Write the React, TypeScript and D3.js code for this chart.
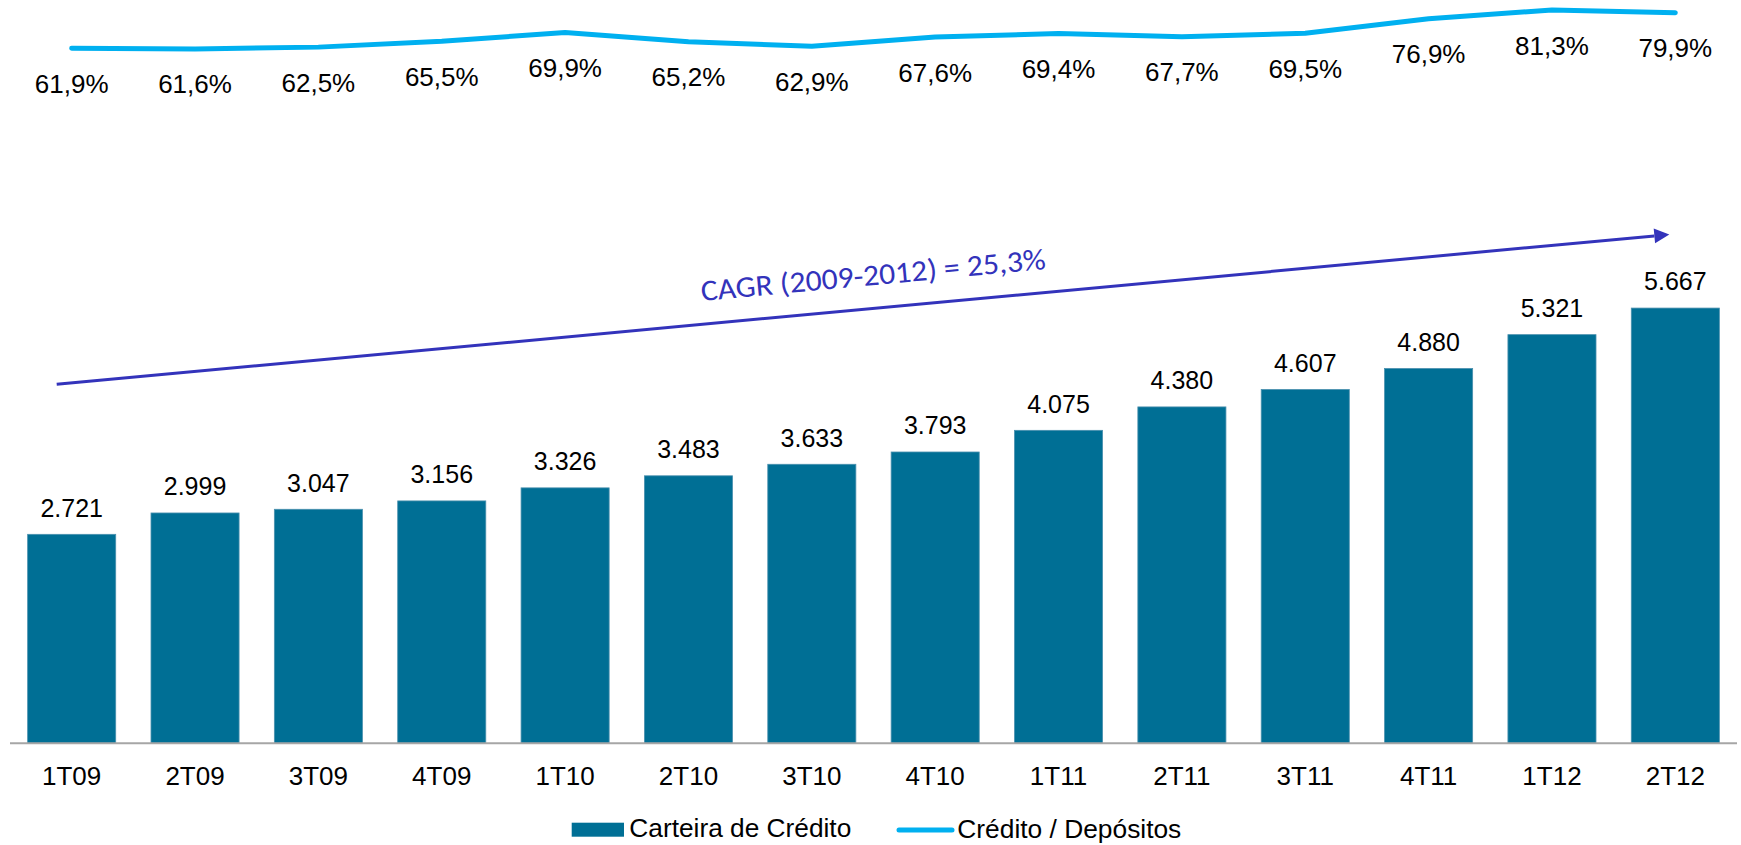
import React from "react";
import * as d3 from "d3";

const categories = ["1T09", "2T09", "3T09", "4T09", "1T10", "2T10", "3T10", "4T10", "1T11", "2T11", "3T11", "4T11", "1T12", "2T12"];
const carteira = [2721, 2999, 3047, 3156, 3326, 3483, 3633, 3793, 4075, 4380, 4607, 4880, 5321, 5667];
const creditoDepositos = [61.9, 61.6, 62.5, 65.5, 69.9, 65.2, 62.9, 67.6, 69.4, 67.7, 69.5, 76.9, 81.3, 79.9];
const legendLabels = ["Carteira de Crédito", "Crédito / Depósitos"];
const cagrLabel = "CAGR (2009-2012) = 25,3%";

const W = 1741;
const H = 845;
const baseY = 743.3;

const BAR = "#006f95";
const LINE = "#00b0f0";
const ARROW = "#3333bb";
const FONT = "'Liberation Sans', Arial, sans-serif";

const locale = d3.formatLocale({ decimal: ",", thousands: ".", grouping: [3], currency: ["R$", ""] });
const fmtInt = locale.format(",d");
const fmtPct = (v: number) => locale.format(".1f")(v) + "%";

const App = () => {
  const x = d3.scaleBand<string>().domain(categories).range([10, 1737]).paddingInner(0.286).paddingOuter(0.143);
  const bw = x.bandwidth();
  const cx = (c: string) => (x(c) as number) + bw / 2;

  const y = d3.scaleLinear().domain([0, 6000]).range([baseY, baseY - 460.8]);
  const yLine = d3.scaleLinear().domain([0, 100]).range([170.5, -26.9]);

  const linePath = d3
    .line<number>()
    .x((_, i) => cx(categories[i]))
    .y((d) => yLine(d))(creditoDepositos);

  // CAGR arrow, anchored on first and last bars
  const ax0 = (x(categories[0]) as number) + bw * 0.33;
  const ay0 = y(4674);
  const ax1 = cx(categories[categories.length - 1]) - 6;
  const ay1 = y(6625);
  const angle = Math.atan2(ay1 - ay0, ax1 - ax0);
  const deg = (angle * 180) / Math.PI;
  const headLen = 15;
  const headHalf = 7.5;
  const bx = ax1 - headLen * Math.cos(angle);
  const by = ay1 - headLen * Math.sin(angle);
  const head = [
    [ax1, ay1],
    [bx + headHalf * Math.sin(angle), by - headHalf * Math.cos(angle)],
    [bx - headHalf * Math.sin(angle), by + headHalf * Math.cos(angle)],
  ];

  return (
    <svg width={W} height={H} style={{ position: "absolute", left: 0, top: 0, background: "#fff" }} fontFamily={FONT}>
      {/* bars */}
      {carteira.map((v, i) => (
        <rect
          key={categories[i]}
          x={x(categories[i])}
          y={y(v)}
          width={bw}
          height={baseY - y(v)}
          fill={BAR}
          stroke="#4a90ae"
          strokeWidth={0.8}
        />
      ))}
      {carteira.map((v, i) => (
        <text key={"l" + i} x={cx(categories[i])} y={y(v) - 17.6} textAnchor="middle" fontSize={25} fill="#000">
          {fmtInt(v)}
        </text>
      ))}

      {/* axis */}
      <line x1={10} x2={1737} y1={baseY} y2={baseY} stroke="#a6a6a6" strokeWidth={2} />
      {categories.map((c) => (
        <text key={c} x={cx(c)} y={785} textAnchor="middle" fontSize={26} fill="#000">
          {c}
        </text>
      ))}

      {/* ratio line */}
      <path d={linePath || ""} fill="none" stroke={LINE} strokeWidth={5} strokeLinejoin="round" strokeLinecap="round" />
      {creditoDepositos.map((v, i) => (
        <text key={"p" + i} x={cx(categories[i])} y={yLine(v) + 44.5} textAnchor="middle" fontSize={26} fill="#000">
          {fmtPct(v)}
        </text>
      ))}

      {/* CAGR annotation */}
      <line x1={ax0} y1={ay0} x2={bx} y2={by} stroke={ARROW} strokeWidth={3} />
      <polygon points={head.map((p) => p.join(",")).join(" ")} fill={ARROW} />
      <text
        transform={`translate(701.7,301) rotate(${deg})`}
        fontFamily="Carlito, Lato, 'Open Sans', sans-serif"
        fontSize={30}
        fill={ARROW}
        textLength={346}
        lengthAdjust="spacingAndGlyphs"
      >
        {cagrLabel}
      </text>

      {/* legend */}
      <rect x={571.7} y={822.7} width={52.3} height={14} fill={BAR} />
      <text x={629.3} y={837.3} fontSize={25} textLength={222} lengthAdjust="spacingAndGlyphs" fill="#000">
        {legendLabels[0]}
      </text>
      <line x1={899} x2={952} y1={830} y2={830} stroke={LINE} strokeWidth={5} strokeLinecap="round" />
      <text x={957.3} y={837.7} fontSize={25} textLength={224} lengthAdjust="spacingAndGlyphs" fill="#000">
        {legendLabels[1]}
      </text>
    </svg>
  );
};

export default App;
